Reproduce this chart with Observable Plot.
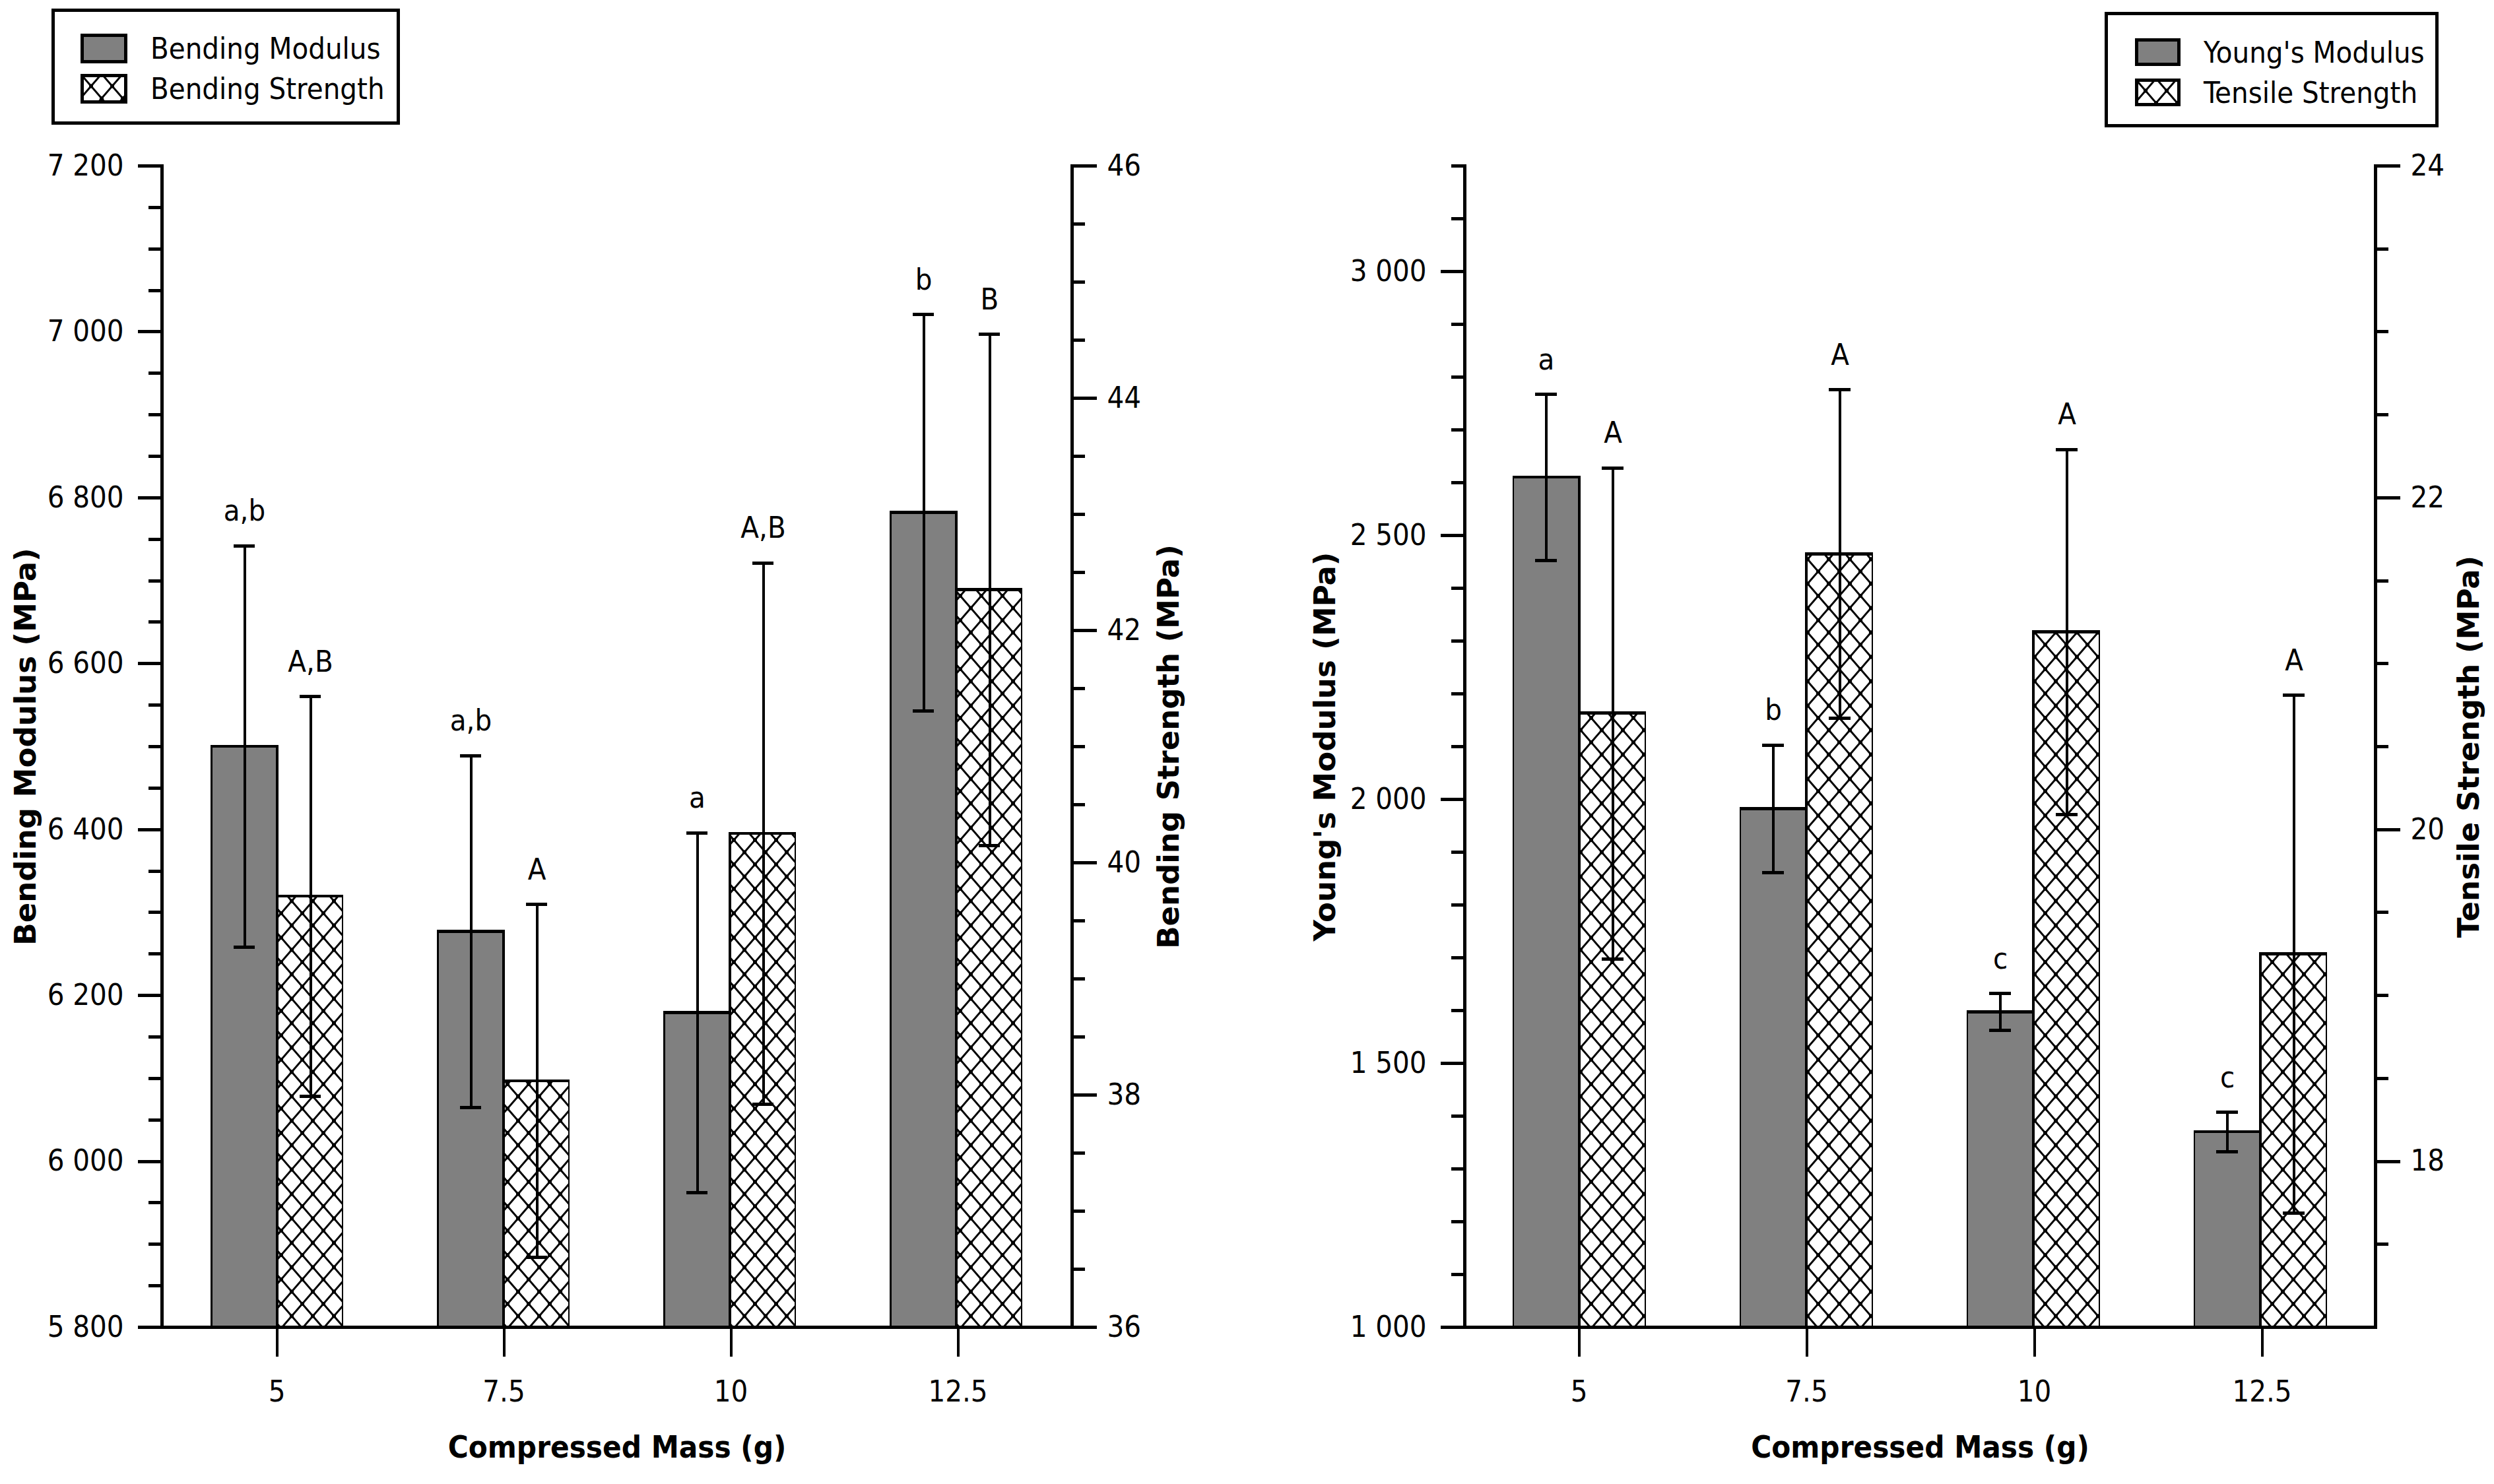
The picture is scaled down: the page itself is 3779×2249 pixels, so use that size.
<!DOCTYPE html>
<html>
<head>
<meta charset="utf-8">
<script src="https://cdn.jsdelivr.net/npm/d3@7"></script>
<script src="https://cdn.jsdelivr.net/npm/@observablehq/plot@0.6"></script>
<style>
  html, body { margin: 0; padding: 0; background: white; }
  body { width: 3779px; height: 2249px; position: relative; overflow: hidden; }
  .panel { position: absolute; top: 0; height: 2249px; }
  .chart { position: absolute; left: 0; top: 200px; height: 2049px; }
  .chart svg { position: absolute; left: 0; top: 0; }
  .chart svg line, .chart svg rect, .chart svg path { shape-rendering: crispEdges; }
  .legend { position: absolute; box-sizing: border-box; border: 5px solid black; background: white;
            font-family: "DejaVu Sans Condensed", "DejaVu Sans", sans-serif; font-size: 45px; color: black; }
  .legend .row { position: absolute; display: flex; align-items: center; }
  .legend .row svg { display: block; margin-right: 35px; shape-rendering: crispEdges; }
</style>
</head>
<body>
<svg width="0" height="0" style="position:absolute">
  <defs>
    <pattern id="hatch" patternUnits="userSpaceOnUse" width="32" height="37">
      <rect x="0" y="0" width="32" height="37" fill="white"></rect>
      <path d="M-16,-18.5 L48,55.5 M48,-18.5 L-16,55.5" stroke="black" stroke-width="3" fill="none"></path>
      <rect x="13" y="15.5" width="6" height="6" fill="black"></rect>
      <rect x="-3" y="-3" width="6" height="6" fill="black"></rect>
      <rect x="29" y="-3" width="6" height="6" fill="black"></rect>
      <rect x="-3" y="34" width="6" height="6" fill="black"></rect>
      <rect x="29" y="34" width="6" height="6" fill="black"></rect>
    </pattern>
  </defs>
</svg>

<div class="panel" id="left" style="left:0px;width:1890px;">
  <div class="legend" style="left:78px;top:13px;width:528px;height:176px;">
    <div class="row" style="left:39px;top:32px;height:46px;">
      <svg width="71" height="45"><rect x="2.5" y="2.5" width="66" height="40" fill="#808080" stroke="black" stroke-width="5"></rect></svg>
      <span>Bending Modulus</span>
    </div>
    <div class="row" style="left:39px;top:93px;height:46px;">
      <svg width="71" height="45"><rect x="2.5" y="2.5" width="66" height="40" fill="url(#hatch)" stroke="black" stroke-width="5"></rect></svg>
      <span>Bending Strength</span>
    </div>
  </div>
  <div class="chart" id="leftChart" style="width:1890px;"></div>
</div>

<div class="panel" id="right" style="left:1890px;width:1889px;">
  <div class="legend" style="left:1299px;top:18px;width:506px;height:175px;">
    <div class="row" style="left:41px;top:35px;height:42px;">
      <svg width="69" height="42"><rect x="2.5" y="2.5" width="64" height="37" fill="#808080" stroke="black" stroke-width="5"></rect></svg>
      <span>Young's Modulus</span>
    </div>
    <div class="row" style="left:41px;top:96px;height:42px;">
      <svg width="69" height="42"><rect x="2.5" y="2.5" width="64" height="37" fill="url(#hatch)" stroke="black" stroke-width="5"></rect></svg>
      <span>Tensile Strength</span>
    </div>
  </div>
  <div class="chart" id="rightChart" style="width:1889px;"></div>
</div>

<script>
// ---------- data ----------
const masses = ["5", "7.5", "10", "12.5"];
const seriesKeys = ["Modulus", "Strength"];

const bendModulus      = [6500, 6277, 6179, 6782];
const bendModulusErr   = [242, 212, 217, 239];
const bendModLetters   = ["a,b", "a,b", "a", "b"];
const bendStrength     = [39.71, 38.12, 40.25, 42.35];
const bendStrengthErr  = [1.72, 1.52, 2.33, 2.2];
const bendStrLetters   = ["A,B", "A", "A,B", "B"];

const youngModulus     = [2610, 1982, 1597, 1370];
const youngModulusErr  = [157, 121, 35, 37];
const youngLetters     = ["a", "b", "c", "c"];
const tensileStrength  = [20.70, 21.66, 21.19, 19.25];
const tensileErr       = [1.48, 0.99, 1.10, 1.56];
const tensileLetters   = ["A", "A", "A", "A"];

const bendModDomain  = [5800, 7200];
const bendModMajor   = [5800, 6000, 6200, 6400, 6600, 6800, 7000, 7200];
const bendStrDomain  = [36, 46];
const bendStrMajor   = [36, 38, 40, 42, 44, 46];
const youngDomain    = [1000, 3200];
const youngMajor     = [1000, 1500, 2000, 2500, 3000];
const tensileDomain  = [17, 24];
const tensileMajor   = [18, 20, 22, 24];

const xTitle = "Compressed Mass (g)";

// ---------- helpers ----------
const FONT = "'DejaVu Sans Condensed', 'DejaVu Sans', sans-serif";
const spaceFmt = d => d3.format(",")(d).replace(/,/g, " ");
const rows = (vals, errs, letters, series) =>
  masses.map((m, i) => ({mass: m, series, value: vals[i], err: errs[i], letter: letters[i]}));

const FX = {domain: masses, paddingInner: 0.413, paddingOuter: 0.211, axis: null, label: null};
const XS = {domain: seriesKeys, padding: 0, axis: null, label: null};

function drawPanel(container, cfg) {
  const common = {
    width: cfg.width, height: 2049,
    marginTop: 51, marginBottom: 238, marginLeft: cfg.marginLeft, marginRight: cfg.marginRight,
    style: {background: "transparent", fontFamily: FONT, fontSize: "44px", color: "black", overflow: "visible"}
  };

  const barLayer = (data, domain, fill) => Plot.plot({
    ...common,
    fx: FX, x: XS,
    y: {domain, axis: null, label: null},
    marks: [
      Plot.barY(data, {fx: "mass", x: "series", y: "value", fill, stroke: "black", strokeWidth: 4.5, clip: true}),
      Plot.ruleX(data, {fx: "mass", x: "series", y1: d => d.value - d.err, y2: d => d.value + d.err, stroke: "black", strokeWidth: 4}),
      Plot.tickY(data, {fx: "mass", x: "series", y: d => d.value + d.err, insetLeft: 34, insetRight: 34, stroke: "black", strokeWidth: 5}),
      Plot.tickY(data, {fx: "mass", x: "series", y: d => d.value - d.err, insetLeft: 34, insetRight: 34, stroke: "black", strokeWidth: 5}),
      Plot.text(data, {fx: "mass", x: "series", y: d => d.value + d.err, text: "letter", lineAnchor: "bottom", dy: -38, fontSize: 45, fill: "black"})
    ]
  });

  const modRows = rows(cfg.mod, cfg.modErr, cfg.modLetters, "Modulus");
  const strRows = rows(cfg.str, cfg.strErr, cfg.strLetters, "Strength");

  const l1 = barLayer(modRows, cfg.modDomain, "#808080");
  const l2 = barLayer(strRows, cfg.strDomain, "url(#hatch)");

  // left axis + x axis
  const l3 = Plot.plot({
    ...common,
    x: {domain: masses, paddingInner: 0.413, paddingOuter: 0.211, axis: null, label: null},
    y: {domain: cfg.modDomain, axis: null, label: null},
    marks: [
      Plot.axisY({anchor: "left", ticks: d3.range(cfg.modDomain[0], cfg.modDomain[1] + 1e-9, cfg.modMinorStep).filter(v => !cfg.modMajor.includes(v)),
                  tickSize: 20, tickFormat: () => "", strokeWidth: 5, label: null}),
      Plot.axisY({anchor: "left", ticks: cfg.modMajor, tickSize: 36, tickPadding: 22, tickFormat: spaceFmt,
                  strokeWidth: 5, fontSize: 45, label: null}),
      Plot.axisX({anchor: "bottom", tickSize: 45, tickPadding: 36, strokeWidth: 4, fontSize: 45, label: null}),
      Plot.frame({anchor: "left", stroke: "black", strokeWidth: 5}),
      Plot.frame({anchor: "bottom", stroke: "black", strokeWidth: 5}),
      Plot.text([cfg.leftTitle], {text: d => d, frameAnchor: "left", rotate: -90, dx: cfg.leftTitleDx,
                  textAnchor: "middle", lineAnchor: "middle", fontWeight: "bold", fontFamily: "'DejaVu Sans', sans-serif", fontSize: 45, fill: "black"}),
      Plot.text([xTitle], {text: d => d, frameAnchor: "bottom", dy: 182, lineAnchor: "middle",
                  fontWeight: "bold", fontFamily: FONT, fontSize: 47, fill: "black"})
    ]
  });

  // right axis
  const l4 = Plot.plot({
    ...common,
    x: {domain: masses, axis: null, label: null},
    y: {domain: cfg.strDomain, axis: null, label: null},
    marks: [
      Plot.axisY({anchor: "right", ticks: d3.range(cfg.strDomain[0], cfg.strDomain[1] + 1e-9, 0.5).filter(v => !cfg.strMajor.includes(v) && v !== cfg.strDomain[0]),
                  tickSize: 19, tickFormat: () => "", strokeWidth: 5, label: null}),
      Plot.axisY({anchor: "right", ticks: cfg.strMajor, tickSize: 37, tickPadding: 16, tickFormat: d => String(d),
                  strokeWidth: 5, fontSize: 45, label: null}),
      Plot.frame({anchor: "right", stroke: "black", strokeWidth: 5}),
      Plot.text([cfg.rightTitle], {text: d => d, frameAnchor: "right", rotate: -90, dx: cfg.rightTitleDx,
                  textAnchor: "middle", lineAnchor: "middle", fontWeight: "bold", fontFamily: "'DejaVu Sans', sans-serif", fontSize: 45, fill: "black"})
    ]
  });

  for (const s of [l1, l2, l3, l4]) container.appendChild(s);
}

drawPanel(document.getElementById("leftChart"), {
  width: 1890, marginLeft: 245, marginRight: 266,
  mod: bendModulus, modErr: bendModulusErr, modLetters: bendModLetters,
  str: bendStrength, strErr: bendStrengthErr, strLetters: bendStrLetters,
  modDomain: bendModDomain, modMajor: bendModMajor, modMinorStep: 50,
  strDomain: bendStrDomain, strMajor: bendStrMajor,
  leftTitle: "Bending Modulus (MPa)", rightTitle: "Bending Strength (MPa)",
  leftTitleDx: -206, rightTitleDx: 147
});

drawPanel(document.getElementById("rightChart"), {
  width: 1889, marginLeft: 329, marginRight: 180,
  mod: youngModulus, modErr: youngModulusErr, modLetters: youngLetters,
  str: tensileStrength, strErr: tensileErr, strLetters: tensileLetters,
  modDomain: youngDomain, modMajor: youngMajor, modMinorStep: 100,
  strDomain: tensileDomain, strMajor: tensileMajor,
  leftTitle: "Young's Modulus (MPa)", rightTitle: "Tensile Strength (MPa)",
  leftTitleDx: -211, rightTitleDx: 142
});
</script>
</body>
</html>
